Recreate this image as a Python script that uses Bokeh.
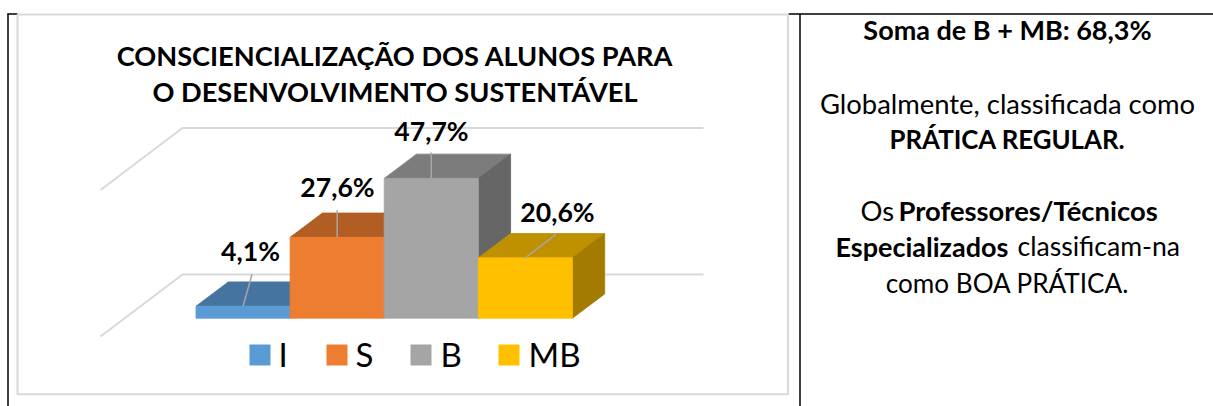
from bokeh.plotting import figure
from bokeh.models import Range1d
from bokeh.core.properties import value
from bokeh.embed import file_html
from bokeh.resources import INLINE

# ---- data ----
categories = ["I", "S", "B", "MB"]
values = [4.1, 27.6, 47.7, 20.6]
labels = ["4,1%", "27,6%", "47,7%", "20,6%"]
grid_values = [0, 50]
title_lines = ["CONSCIENCIALIZAÇÃO DOS ALUNOS PARA", "O DESENVOLVIMENTO SUSTENTÁVEL"]

# ---- colours ----
front = ["#5B9BD5", "#ED7D31", "#A5A5A5", "#FFC000"]
top = ["#44749F", "#B15D24", "#7C7C7C", "#BF9000"]
side = ["#365D80", "#8E4B1D", "#666666", "#A37B00"]
GRID = "#D9D9D9"
LEADER = "#A6A6A6"
FONT = value("Lato")

# ---- layout (page pixels) ----
W, H = 1213, 406
PX_PER_CAT = 94.1
PX_PER_PCT = 2.93
BAR_LEFT = 195.5
BASE_Y = 317.7
DEPTH_X, DEPTH_Y = 32.3, 24.3

def X(px):
    return (px - BAR_LEFT) / PX_PER_CAT

def Y(py):
    return (BASE_Y - py) / PX_PER_PCT

p = figure(width=W, height=H, output_backend="svg", toolbar_location=None,
           x_range=Range1d(X(0), X(W)), y_range=Range1d(Y(H), Y(0)),
           min_border=0, outline_line_color=None, background_fill_color="white",
           border_fill_color="white")
p.axis.visible = False
p.grid.visible = False

def T(px, py, s, size, bold=False, align="center"):
    p.text([X(px)], [Y(py - 0.42 * size)], text=[s], text_font=FONT, text_font_size=f"{size}px",
           text_font_style="bold" if bold else "normal",
           text_align=align, text_baseline="alphabetic", text_color="black")

# page rules of the surrounding table
p.line([X(7.5), X(7.5)], [Y(13), Y(406)], line_color="black", line_width=1.5)
p.line([X(7), X(17)], [Y(13.5), Y(13.5)], line_color="black", line_width=1.5)
p.line([X(788), X(1213)], [Y(13.5), Y(13.5)], line_color="black", line_width=1.5)
p.line([X(799.5), X(799.5)], [Y(13), Y(406)], line_color="black", line_width=1.5)

# chart frame
p.line([X(17), X(787.5), X(787.5), X(17), X(17)],
       [Y(14), Y(14), Y(393.8), Y(393.8), Y(14)], line_color=GRID, line_width=2)

# back-wall gridlines
floor_front = 336.0
for v in grid_values:
    yf = Y(floor_front) + v
    yb = Y(floor_front - 62) + v
    p.line([X(100), X(182), X(703)], [yf, yb, yb], line_color=GRID, line_width=2)

# 3D bars
dx = DEPTH_X / PX_PER_CAT
dy = DEPTH_Y / PX_PER_PCT
for i, v in enumerate(values):
    x0, x1 = i, i + 1
    p.patch([x0, x0 + dx, x1 + dx, x1], [v, v + dy, v + dy, v],
            fill_color=top[i], line_color=top[i], line_width=0.8)
    p.patch([x1, x1 + dx, x1 + dx, x1], [0, dy, v + dy, v],
            fill_color=side[i], line_color=side[i], line_width=0.8)
    p.patch([x0, x1, x1, x0], [0, 0, v, v],
            fill_color=front[i], line_color=front[i], line_width=0.8)

# leader lines and value labels
leader_offsets = [(9.0, 32), (0, 27), (0, 26), (30.5, 23.5)]
label_pos = [(250, 261.5), (337, 198), (431, 141.5), (557, 223)]
for i, v in enumerate(values):
    x = i + 0.5
    ox, oy = leader_offsets[i]
    p.line([x, x + ox / PX_PER_CAT], [v, v + oy / PX_PER_PCT], line_color=LEADER, line_width=1.5)
    lx, ly = label_pos[i]
    T(lx, ly, labels[i], 26.6, True)

# title
for line, py in zip(title_lines, [66, 102]):
    T(394.5, py, line, 27.2, True)

# legend
swatch_x = [249, 326, 410, 498]
legend_x = [278, 355, 440, 528]
for i, c in enumerate(categories):
    sx = swatch_x[i]
    p.quad(left=[X(sx)], right=[X(sx + 21)], top=[Y(344)], bottom=[Y(365)],
           fill_color=front[i], line_color=None)
    T(legend_x[i], 367, c, 33, False, "left")

# commentary on the right
T(1007, 40, "Soma de B + MB: 68,3%", 27, True)
T(1007, 115, "Globalmente, classificada como", 27.4)
T(1007, 149, "PRÁTICA REGULAR.", 25.8, True)
T(860, 222, "Os", 27.4, False, "left")
T(898, 222, "Professores/Técnicos", 27.4, True, "left")
T(835, 257, "Especializados", 27, True, "left")
T(1017, 257, "classificam-na", 26.6, False, "left")
T(1007, 293, "como BOA PRÁTICA.", 26.1)

open("out.html", "w").write(file_html(p, INLINE))
